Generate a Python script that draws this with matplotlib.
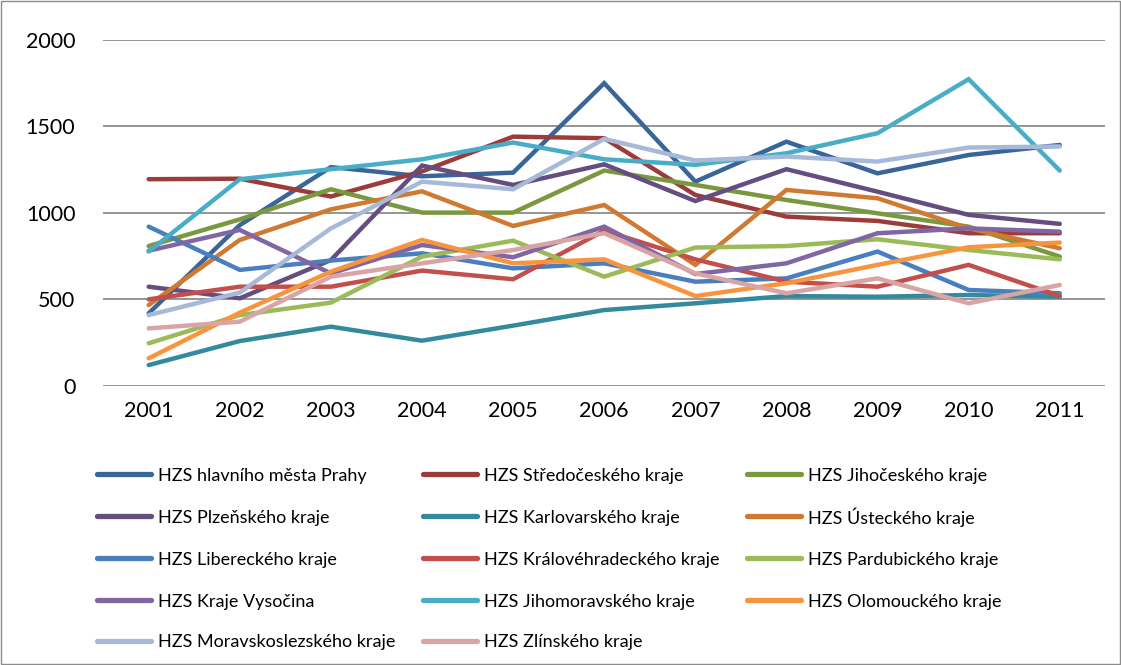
import matplotlib
matplotlib.use("Agg")
import matplotlib.pyplot as plt
from matplotlib.lines import Line2D
from matplotlib.patches import Rectangle

years = list(range(2001, 2012))

names = [
    "HZS hlavního města Prahy", "HZS Středočeského kraje", "HZS Jihočeského kraje",
    "HZS Plzeňského kraje", "HZS Karlovarského kraje", "HZS Ústeckého kraje",
    "HZS Libereckého kraje", "HZS Královéhradeckého kraje", "HZS Pardubického kraje",
    "HZS Kraje Vysočina", "HZS Jihomoravského kraje", "HZS Olomouckého kraje",
    "HZS Moravskoslezského kraje", "HZS Zlínského kraje",
]

praha = [420, 930, 1265, 1212, 1233, 1750, 1181, 1412, 1229, 1335, 1393]
stredocesky = [1195, 1198, 1095, 1240, 1441, 1432, 1104, 979, 954, 883, 883]
jihocesky = [809, 963, 1137, 1002, 1002, 1245, 1162, 1075, 998, 921, 748]
plzensky = [574, 507, 728, 1274, 1162, 1281, 1069, 1253, 1123, 989, 937]
karlovarsky = [121, 260, 343, 262, 349, 439, 478, 520, 516, 526, 516]
ustecky = [468, 844, 1021, 1125, 925, 1046, 700, 1133, 1085, 911, 796]
liberecky = [921, 671, 725, 767, 680, 709, 603, 622, 777, 555, 536]
kralovehradecky = [501, 574, 574, 667, 617, 898, 732, 603, 574, 700, 520]
pardubicky = [247, 410, 482, 748, 840, 632, 800, 809, 848, 786, 732]
vysocina = [782, 902, 651, 815, 744, 921, 647, 709, 883, 911, 892]
jihomoravsky = [777, 1195, 1253, 1310, 1407, 1310, 1278, 1345, 1461, 1773, 1245]
olomoucky = [160, 424, 661, 844, 709, 732, 520, 594, 700, 802, 829]
moravskoslezsky = [410, 540, 911, 1181, 1137, 1428, 1303, 1326, 1297, 1378, 1384]
zlinsky = [333, 372, 632, 709, 786, 883, 651, 536, 622, 478, 584]

series = [praha, stredocesky, jihocesky, plzensky, karlovarsky, ustecky,
          liberecky, kralovehradecky, pardubicky, vysocina, jihomoravsky,
          olomoucky, moravskoslezsky, zlinsky]

colors = ["#3A6598", "#9C3C3A", "#7A983F", "#654D80", "#338A9E", "#D07A31",
          "#4A7FBF", "#C24F4C", "#9BBB59", "#8166A4", "#4AADC8", "#F7953F",
          "#A6B9D9", "#D9A5A4"]

plt.rcParams['font.family'] = ['Lato', 'DejaVu Sans']

W, H = 1121, 665
fig = plt.figure(figsize=(W / 100, H / 100), dpi=100)
ax = fig.add_axes([0.092, 0.4195, 0.894, 0.5205])

for vals, name, c in zip(series, names, colors):
    ax.plot(years, vals, color=c, lw=3.2, label=name,
            solid_capstyle="round", solid_joinstyle="miter")

ax.set_xlim(2000.5, 2011.5)
ax.set_ylim(0, 2000)
ax.set_yticks([0, 500, 1000, 1500, 2000])
ax.set_xticks(years)
ax.grid(axis="y", color="#8C8C8C", lw=1.3)
ax.set_axisbelow(True)
for s in ax.spines.values():
    s.set_visible(False)
ax.tick_params(length=0, labelsize=15.5, colors="black")
ax.tick_params(axis="y", pad=20)
ax.tick_params(axis="x", pad=11)

# legend: 3 columns, row-major, placed by pixel position
col_x = [97, 423, 747]
row_y = [474, 516, 558, 600, 641]
for i, (name, c) in enumerate(zip(names, colors)):
    r, k = divmod(i, 3)
    x0 = col_x[k] / W
    y = 1 - row_y[r] / H
    fig.add_artist(Line2D([x0, x0 + 54 / W], [y, y], transform=fig.transFigure,
                          color=c, lw=3.8, solid_capstyle="round"))
    fig.text(x0 + 61 / W, y, name, fontsize=13, va="center_baseline", ha="left")

fig.patches.append(Rectangle((0.0005, 0.002), 0.999, 0.997, transform=fig.transFigure,
                             fill=False, edgecolor="#8C8C8C", lw=1))

fig.savefig("out.png", dpi=100)
